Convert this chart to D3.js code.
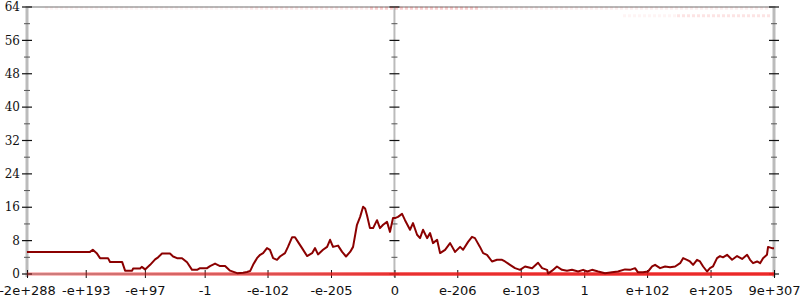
<!DOCTYPE html>
<meta charset="utf-8">
<head>
<title>Float bits</title>
</head>
<style>
body { margin: 0; background: #fff; }
.ylab { font-family: "DejaVu Serif", serif; font-size: 12px; fill: #111; }
.xlab { font-family: "DejaVu Sans", sans-serif; font-size: 13px; fill: #111; }
</style>
<body>
<svg width="800" height="300"></svg>
<script src="https://cdnjs.cloudflare.com/ajax/libs/d3/7.8.5/d3.min.js"></script>
<script>
// x positions are "float order" keys: sign * (log2|v| + 1023)
var xTickValues = [-2e288, -1e193, -1e97, -1, -1e-102, -1e-205, 0, 1e-206, 1e-103, 1, 1e102, 1e205, 9e307];
var xTickLabels = ["-2e+288", "-e+193", "-e+97", "-1", "-e-102", "-e-205", "0", "e-206", "e-103", "1", "e+102", "e+205", "9e+307"];
var yTickValues = [0, 8, 16, 24, 32, 40, 48, 56, 64];
var yMinorValues = [4, 12, 20, 28, 36, 44, 52, 60];

// main series (dark red)
var lineKeys = [-1981, -1641, -1626, -1605, -1587, -1544, -1533, -1468, -1452, -1414, -1409, -1371, -1362, -1344, -1317, -1290, -1274, -1253, -1210, -1193,
	-1172, -1145, -1118, -1091, -1064, -1048, -1010, -994, -967, -940, -913, -886, -848, -816, -795, -778, -762, -741, -724, -708,
	-687, -671, -654, -633, -617, -590, -574, -552, -536, -520, -498, -471, -444, -428, -412, -385, -363, -347, -331, -304,
	-282, -261, -239, -223, -202, -185, -169, -158, -148, -132, -115, -94, -78, -61, -40, -24, -8, 3, 19, 41,
	57, 84, 100, 122, 138, 154, 176, 192, 208, 230, 246, 273, 300, 327, 354, 370, 397, 418, 434, 461,
	478, 499, 526, 553, 580, 596, 623, 650, 677, 704, 742, 774, 796, 823, 828, 850, 876, 903, 930, 957,
	990, 1017, 1040, 1065, 1098, 1135, 1173, 1205, 1243, 1270, 1297, 1313, 1340, 1367, 1389, 1405, 1432, 1459, 1486, 1513,
	1540, 1556, 1577, 1593, 1610, 1631, 1647, 1664, 1685, 1701, 1717, 1739, 1755, 1771, 1793, 1820, 1847, 1874, 1901, 1917,
	1933, 1955, 1971, 1987, 2008, 2014, 2035, 2046];
var lineVals = [5.3, 5.3, 5.8, 5.0, 3.8, 3.8, 2.9, 2.9, 0.8, 0.8, 1.3, 1.3, 1.7, 1.1, 2.2, 3.5, 4.0, 4.9, 4.9, 4.2,
	3.8, 3.8, 2.8, 1.0, 1.0, 1.4, 1.4, 1.9, 2.5, 1.9, 1.9, 0.8, 0.2, 0.3, 0.5, 0.7, 2.2, 3.8, 4.6, 5.0,
	6.2, 5.8, 3.8, 3.4, 4.2, 5.0, 6.5, 8.8, 8.8, 7.7, 6.2, 4.3, 5.0, 6.2, 4.7, 5.8, 6.5, 8.2, 6.5, 6.8,
	5.3, 4.2, 5.3, 6.5, 11.8, 13.7, 16.1, 15.7, 14.1, 11.0, 11.0, 12.9, 11.0, 11.8, 12.5, 10.1, 13.4, 13.4, 13.7, 14.4,
	12.9, 10.6, 12.2, 9.4, 8.6, 10.6, 8.6, 9.8, 7.4, 8.2, 5.0, 5.8, 7.4, 5.3, 6.5, 5.8, 7.7, 8.9, 8.6, 6.5,
	5.0, 4.6, 3.0, 3.4, 3.4, 3.0, 2.2, 1.4, 1.0, 1.8, 1.4, 2.7, 1.4, 1.0, 0.1, 0.8, 1.8, 1.0, 0.8, 1.0,
	0.6, 1.0, 0.6, 1.0, 0.6, 0.2, 0.4, 0.6, 1.1, 1.0, 1.4, 0.4, 0.4, 0.6, 1.8, 2.2, 1.4, 1.8, 1.6, 1.8,
	2.6, 3.8, 3.4, 3.0, 2.2, 3.4, 3.0, 1.8, 0.6, 1.4, 1.8, 3.8, 4.3, 4.0, 4.6, 3.4, 4.3, 3.6, 4.6, 3.4,
	2.6, 3.0, 2.6, 3.8, 4.6, 6.5, 6.2, 6.2];

// zero series (bright red), density rises to the right
var zeroKeys = [-1981, -830, 0, 2046];
var zeroAlpha = [0.35, 0.6, 0.85, 0.9];

// faint points near the top
var topBandFrom = [-1884, -778, -132, 461, 1232, 1523];
var topBandTo = [-778, -132, 461, 2025, 1523, 2025];
var topBandVal = [63.7, 63.7, 63.7, 63.7, 61.9, 61.9];
var topBandAlpha = [0.05, 0.1, 0.22, 0.08, 0.05, 0.12];

function key(v) { return v === 0 ? 0 : Math.sign(v) * (Math.log2(Math.abs(v)) + 1023); }

var pLeft = 27, pRight = 774, pTop = 7, pBottom = 274;
var x = d3.scaleLinear().domain([key(-2e288), key(9e307)]).range([pLeft, pRight]);
var y = d3.scaleLinear().domain([0, 64]).range([pBottom, pTop]);

var svg = d3.select("svg");

// frame lines
svg.append("line").attr("x1", pLeft).attr("x2", pRight).attr("y1", pTop).attr("y2", pTop)
	.attr("stroke", "#b8b8b8").attr("stroke-width", 2);
svg.append("line").attr("x1", pLeft).attr("x2", pRight).attr("y1", pBottom).attr("y2", pBottom)
	.attr("stroke", "#b8b8b8").attr("stroke-width", 2);

// vertical axes: left (labelled), middle at 0, right
function vAxis(px, labels, w) {
	var g = svg.append("g").attr("transform", "translate(" + px + ",0)");
	g.append("line").attr("y1", pTop - 1).attr("y2", pBottom + 3).attr("stroke", "#bbb").attr("stroke-width", w);
	g.selectAll(".minor").data(yMinorValues).enter().append("line")
		.attr("x1", -3).attr("x2", 3).attr("y1", d => y(d)).attr("y2", d => y(d))
		.attr("stroke", "#555").attr("stroke-width", 1);
	g.selectAll(".major").data(yTickValues).enter().append("line")
		.attr("x1", -5).attr("x2", 5).attr("y1", d => y(d)).attr("y2", d => y(d))
		.attr("stroke", "#111").attr("stroke-width", 1.2);
	if (labels) {
		g.selectAll("text").data(yTickValues).enter().append("text")
			.attr("class", "ylab").attr("x", -7).attr("y", d => y(d)).attr("dy", "0.35em")
			.attr("text-anchor", "end").text(d => d);
	}
}
vAxis(pLeft, true, 3);
vAxis(x(0), false, 2);
vAxis(pRight, false, 3);

// bottom axis
var xAxis = d3.axisBottom(x)
	.tickValues(xTickValues.map(key))
	.tickFormat((d, i) => xTickLabels[i])
	.tickSize(4).tickPadding(6);
var gx = svg.append("g").attr("transform", "translate(0," + pBottom + ")").call(xAxis);
gx.select(".domain").remove();
gx.selectAll(".tick line").attr("y1", -4).attr("y2", 4).attr("stroke", "#111");
gx.selectAll(".tick text").attr("class", "xlab").attr("fill", null).attr("y", 12);
gx.attr("font-family", null).attr("font-size", null);

// faint top points
topBandFrom.forEach(function(k0, i) {
	svg.append("line")
		.attr("x1", x(k0)).attr("x2", x(topBandTo[i]))
		.attr("y1", y(topBandVal[i])).attr("y2", y(topBandVal[i]))
		.attr("stroke", "#e82020").attr("stroke-opacity", topBandAlpha[i])
		.attr("stroke-width", 3).attr("stroke-dasharray", "3,2");
});

// zero series with gradient density
var grad = svg.append("defs").append("linearGradient").attr("id", "zg")
	.attr("gradientUnits", "userSpaceOnUse")
	.attr("x1", pLeft).attr("x2", pRight).attr("y1", 0).attr("y2", 0);
zeroKeys.forEach(function(k, i) {
	grad.append("stop").attr("offset", (x(k) - pLeft) / (pRight - pLeft))
		.attr("stop-color", "#f01818").attr("stop-opacity", zeroAlpha[i]);
});
svg.append("line").attr("x1", x(zeroKeys[0])).attr("x2", x(zeroKeys[zeroKeys.length - 1]))
	.attr("y1", y(0)).attr("y2", y(0))
	.attr("stroke", "url(#zg)").attr("stroke-width", 3.5);

// main line
var pts = lineKeys.map((k, i) => [k, lineVals[i]]);
svg.append("path").datum(pts)
	.attr("fill", "none").attr("stroke", "#8b0000").attr("stroke-width", 2)
	.attr("stroke-linejoin", "round")
	.attr("d", d3.line().x(d => x(d[0])).y(d => y(d[1])));
</script>
</body>
</html>
